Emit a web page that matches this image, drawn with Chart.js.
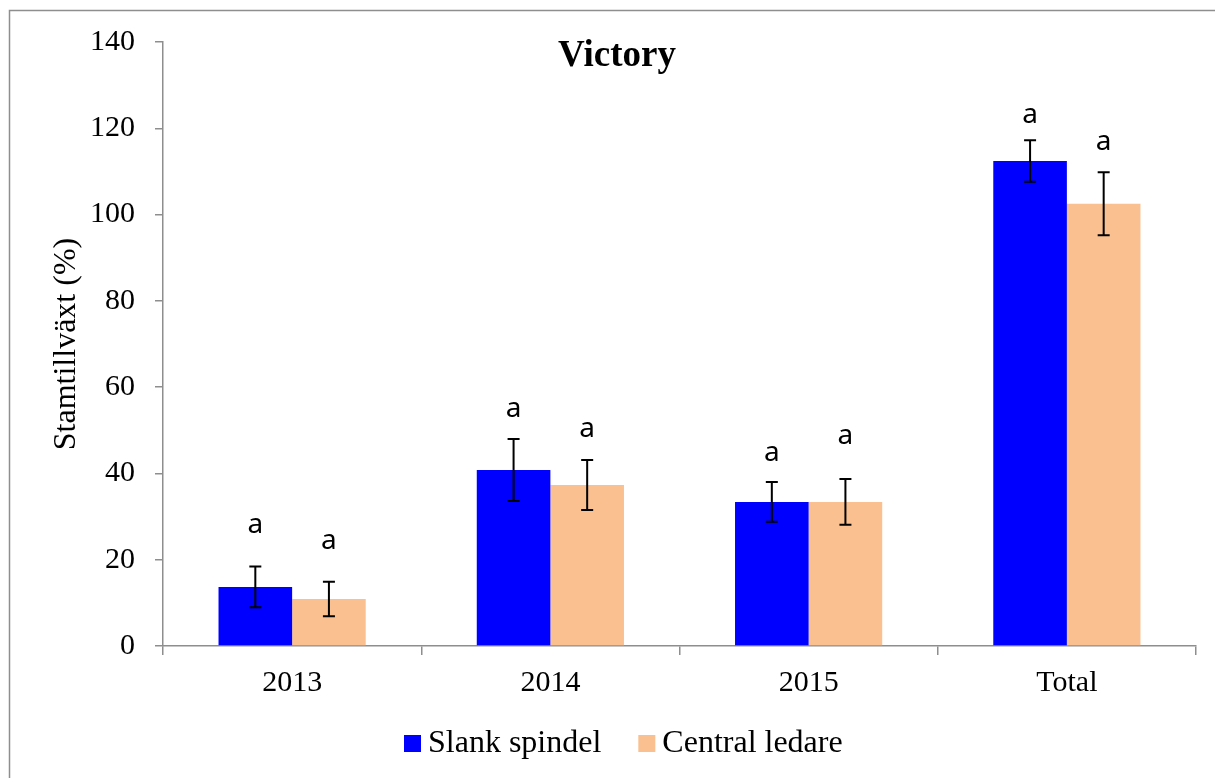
<!DOCTYPE html>
<html>
<head>
<meta charset="utf-8">
<title>Victory</title>
<script src="https://cdn.jsdelivr.net/npm/chart.js"></script>
<style>
  html, body { margin: 0; padding: 0; background: #fff; }
  #wrap { width: 1215px; height: 778px; position: relative; }
</style>
</head>
<body>
<div id="wrap"><canvas id="victoryChart"></canvas></div>
<script>
// data
const years = ['2013', '2014', '2015', 'Total'];
const slankSpindel = [13.7, 40.8, 33.4, 112.4];
const slankErr = [4.7, 7.2, 4.6, 4.8];
const centralLedare = [10.9, 37.3, 33.4, 102.5];
const centralErr = [4.0, 5.8, 5.3, 7.3];
// significance letters and the value height they sit at
const slankLetters = ['a', 'a', 'a', 'a'];
const slankLetterAt = [28.0, 54.9, 44.7, 123.1];
const centralLetters = ['a', 'a', 'a', 'a'];
const centralLetterAt = [24.4, 50.2, 48.7, 116.9];
const yTicks = [0, 20, 40, 60, 80, 100, 120, 140];

const serif = "'Liberation Serif', 'Times New Roman', serif";
const axisGray = '#8e8e8e';

// frame, title, error bars, letters and legend
const extras = {
  id: 'extras',
  beforeDraw(chart) {
    const c = chart.ctx;
    c.save();
    c.strokeStyle = axisGray;
    c.lineWidth = 1.5;
    c.strokeRect(9.5, 10.5, 1400, 1000);
    c.restore();
  },
  afterDatasetsDraw(chart) {
    const c = chart.ctx;
    const y = chart.scales.y;
    const errs = [slankErr, centralErr];
    const letters = [slankLetters, centralLetters];
    const letterAt = [slankLetterAt, centralLetterAt];
    c.save();
    chart.data.datasets.forEach(function (ds, i) {
      const meta = chart.getDatasetMeta(i);
      meta.data.forEach(function (bar, j) {
        const top = y.getPixelForValue(ds.data[j] + errs[i][j]);
        const bot = y.getPixelForValue(ds.data[j] - errs[i][j]);
        c.strokeStyle = '#000';
        c.lineWidth = 2;
        c.beginPath();
        c.moveTo(bar.x, top); c.lineTo(bar.x, bot);
        c.moveTo(bar.x - 6, top); c.lineTo(bar.x + 6, top);
        c.moveTo(bar.x - 6, bot); c.lineTo(bar.x + 6, bot);
        c.stroke();

        c.fillStyle = '#000';
        c.font = "28px 'Noto Sans', sans-serif";
        c.textAlign = 'center';
        c.textBaseline = 'middle';
        c.fillText(letters[i][j], bar.x, y.getPixelForValue(letterAt[i][j]));
      });
    });
    c.restore();
  },
  afterDraw(chart) {
    const c = chart.ctx;
    c.save();
    c.fillStyle = '#000';
    c.font = 'bold 37px ' + serif;
    c.textAlign = 'center';
    c.textBaseline = 'alphabetic';
    c.fillText('Victory', 617, 66);

    // legend
    c.font = '32px ' + serif;
    c.textAlign = 'left';
    c.textBaseline = 'middle';
    let x = 404;
    chart.data.datasets.forEach(function (ds) {
      c.fillStyle = ds.backgroundColor;
      c.fillRect(x, 735, 17, 17);
      c.fillStyle = '#000';
      c.fillText(ds.label, x + 24, 744);
      x += 24 + c.measureText(ds.label).width + 37;
    });
    c.restore();
  }
};

const ctx = document.getElementById('victoryChart');
new Chart(ctx, {
  type: 'bar',
  data: {
    labels: years,
    datasets: [
      {
        label: 'Slank spindel',
        data: slankSpindel,
        backgroundColor: '#0000ff',
        categoryPercentage: 0.57,
        barPercentage: 1.0
      },
      {
        label: 'Central ledare',
        data: centralLedare,
        backgroundColor: '#fac090',
        categoryPercentage: 0.57,
        barPercentage: 1.0
      }
    ]
  },
  options: {
    responsive: true,
    maintainAspectRatio: false,
    animation: false,
    layout: { padding: { left: 0, right: 19, top: 42, bottom: 0 } },
    plugins: {
      legend: { display: false },
      title: { display: false },
      tooltip: { enabled: false }
    },
    scales: {
      x: {
        grid: {
          offset: true,
          drawOnChartArea: false,
          drawTicks: true,
          tickLength: 9,
          color: axisGray,
          lineWidth: 1.5
        },
        border: { color: axisGray, width: 1.5 },
        ticks: {
          color: '#000',
          font: { family: serif, size: 30 },
          padding: 10,
          maxRotation: 0
        },
        afterFit: function (scale) { scale.height = 132; }
      },
      y: {
        min: 0,
        max: 140,
        afterBuildTicks: function (scale) {
          scale.ticks = yTicks.map(function (v) { return { value: v }; });
        },
        grid: {
          drawOnChartArea: false,
          drawTicks: true,
          tickLength: 8,
          color: axisGray,
          lineWidth: 1.5
        },
        border: { color: axisGray, width: 1.5 },
        ticks: {
          color: '#000',
          font: { family: serif, size: 30 },
          padding: 20
        },
        title: {
          display: true,
          text: 'Stamtillväxt (%)',
          color: '#000',
          font: { family: serif, size: 32 },
          padding: { top: 47, bottom: 0 }
        },
        afterFit: function (scale) { scale.width = 163; }
      }
    }
  },
  plugins: [extras]
});
</script>
</body>
</html>
